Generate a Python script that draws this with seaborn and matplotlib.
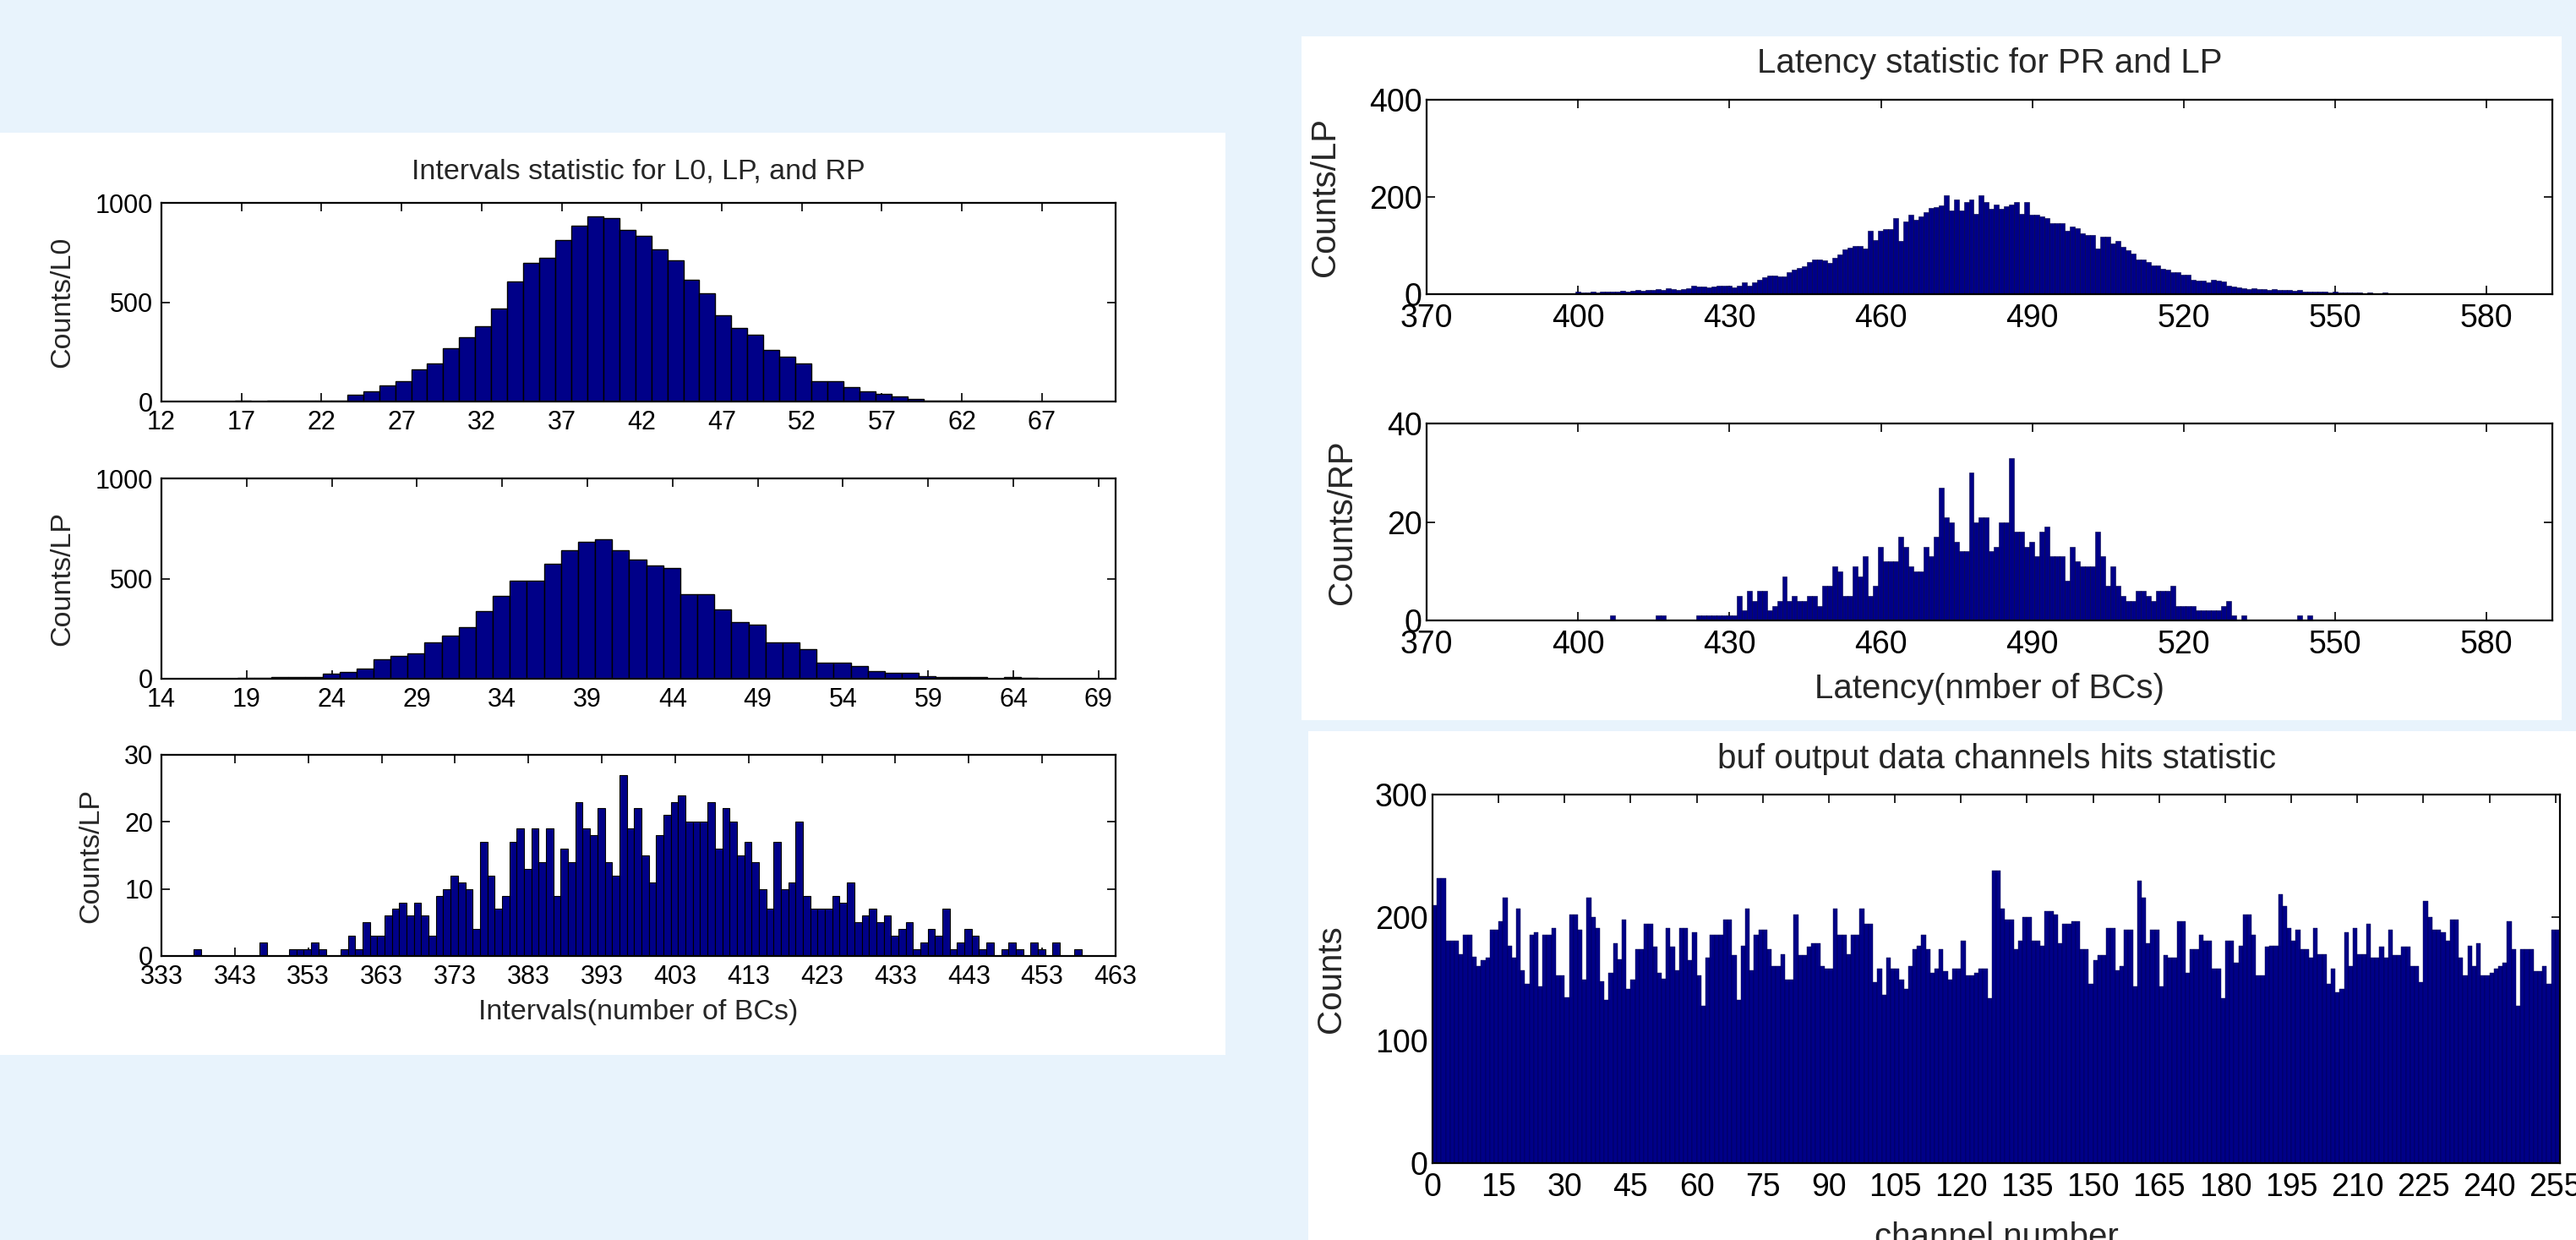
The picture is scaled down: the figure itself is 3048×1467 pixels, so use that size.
import numpy as np
import pandas as pd
import matplotlib.pyplot as plt
import seaborn as sns
from matplotlib.patches import Rectangle

# ---- values (bins are 1 unit wide, start = left edge of first bin) ----
l0_start = 16.6
l0_counts = [5, 0, 3, 4, 4, 5, 6, 35, 50, 81, 102, 160, 191, 267, 323, 379, 468, 603,
             699, 723, 811, 887, 932, 922, 865, 833, 766, 709, 613, 546, 435, 369, 336,
             258, 224, 191, 102, 102, 71, 50, 38, 24, 14, 6, 5, 4, 4, 3, 3, 2, 2]

lp_start = 18.45
lp_counts = [6, 6, 7, 8, 10, 25, 35, 49, 95, 115, 126, 183, 215, 258, 336, 412, 489, 489,
             574, 643, 685, 695, 642, 597, 566, 552, 421, 421, 347, 281, 270, 181, 181,
             147, 81, 81, 63, 38, 28, 28, 12, 10, 9, 8, 0, 7, 6]

rp_start = 337.4
rp_counts = [1, 0, 0, 0, 0, 0, 0, 0, 0, 2, 0, 0, 0, 1, 1, 1, 2, 1, 0, 0,
             1, 3, 1, 5, 3, 3, 6, 7, 8, 6, 8, 6, 3, 9, 10, 12, 11, 10, 4, 17,
             12, 7, 9, 17, 19, 13, 19, 14, 19, 9, 16, 14, 23, 19, 18, 22, 14, 12, 27, 19,
             22, 15, 11, 18, 21, 23, 24, 20, 20, 20, 23, 16, 22, 20, 15, 17, 14, 10, 7, 17,
             10, 11, 20, 9, 7, 7, 7, 9, 8, 11, 5, 6, 7, 5, 6, 3, 4, 5, 1, 2,
             4, 3, 7, 1, 2, 4, 3, 1, 2, 0, 1, 2, 1, 0, 2, 1, 0, 2, 0, 0, 1]

lat_lp_start = 399.4
lat_lp_counts = [5, 4, 3, 5, 4, 6, 5, 6, 6, 7, 6, 7, 8, 7, 8, 9, 10, 8,
                 13, 10, 9, 10, 12, 18, 15, 15, 14, 16, 18, 17, 18, 14, 17, 24, 18, 24,
                 30, 34, 38, 39, 36, 36, 45, 50, 54, 58, 66, 71, 71, 70, 65, 75, 82, 92,
                 96, 99, 99, 94, 130, 112, 130, 134, 134, 156, 110, 150, 163, 153, 160, 169, 177, 180,
                 183, 204, 173, 194, 172, 190, 195, 165, 204, 190, 176, 184, 175, 181, 184, 190, 165, 190,
                 163, 163, 160, 156, 146, 146, 146, 130, 140, 136, 125, 121, 121, 94, 119, 119, 105, 110,
                 98, 90, 83, 71, 71, 66, 60, 60, 52, 50, 46, 46, 40, 40,
                 30, 28, 27, 25, 30, 28, 26, 18, 15, 14, 12, 11, 12, 10, 11, 9, 10, 8, 9, 8, 7, 8, 6,
                 6, 5, 6, 5, 4, 5, 4, 3, 4, 3, 3, 2, 3, 2, 2, 3, 2, 1, 2, 1]

lat_rp_start = 406.4
lat_rp_counts = [1, 0, 0, 0, 0, 0, 0, 0, 0, 1, 1, 0, 0, 0, 0, 0, 0, 1, 1, 1, 1, 1, 1, 1, 1,
                 5, 2, 6, 4, 6, 6, 2, 3, 4, 9, 4, 5, 4, 4, 5, 5, 3, 7, 7, 11,
                 10, 5, 5, 11, 9, 13, 5, 7, 15, 12, 12, 12, 17, 15, 11, 10, 10, 15, 13, 17,
                 27, 21, 20, 16, 14, 14, 30, 20, 21, 21, 14, 15, 20, 20, 33, 18, 18, 15, 16, 13,
                 18, 19, 13, 13, 13, 8, 15, 12, 11, 11, 11, 18, 13, 7, 11, 7, 5, 4, 4, 6,
                 6, 5, 4, 6, 6, 6, 7, 3, 3, 3, 3, 2, 2, 2, 2, 2, 3, 4, 1, 0,
                 1, 0, 0, 0, 0, 0, 0, 0, 0, 0, 0, 1, 0, 1]

chan_counts = [210, 232, 232, 181, 181, 181, 170, 186, 186, 168,
               160, 165, 167, 190, 190, 197, 216, 177, 167, 207,
               157, 146, 186, 188, 144, 186, 186, 191, 153, 153,
               135, 202, 202, 190, 149, 216, 200, 191, 148, 133,
               155, 179, 166, 198, 142, 149, 174, 174, 195, 195,
               176, 155, 150, 191, 176, 157, 191, 191, 165, 188,
               153, 128, 167, 186, 186, 186, 198, 198, 169, 133,
               177, 207, 157, 186, 190, 190, 174, 160, 160, 170,
               149, 149, 202, 169, 169, 176, 179, 179, 160, 158,
               158, 207, 186, 186, 170, 186, 186, 207, 195, 195,
               147, 158, 137, 167, 158, 158, 149, 142, 160, 174,
               177, 186, 174, 155, 158, 174, 156, 149, 158, 158,
               181, 153, 153, 155, 158, 158, 134, 238, 238, 207,
               198, 198, 174, 181, 200, 200, 181, 181, 177, 205,
               205, 202, 179, 195, 195, 197, 197, 174, 174, 146,
               165, 169, 169, 191, 191, 157, 160, 190, 190, 144,
               230, 216, 179, 190, 190, 144, 169, 167, 167, 197,
               197, 155, 174, 174, 186, 181, 181, 158, 158, 134,
               181, 181, 163, 177, 202, 202, 186, 153, 153, 176,
               177, 177, 219, 209, 191, 181, 190, 174, 174, 167,
               191, 170, 170, 146, 158, 139, 142, 188, 160, 191,
               170, 170, 195, 167, 167, 176, 167, 190, 169, 169,
               176, 176, 160, 160, 147, 213, 200, 190, 190, 188,
               181, 198, 198, 167, 153, 177, 160, 179, 153, 153,
               155, 158, 160, 163, 197, 174, 128, 174, 174, 174,
               156, 156, 160, 146, 190, 190]

NAVY = '#000088'
BG = '#e8f3fc'
W, H = 3048, 1467

sns.set_style('ticks')
plt.rcParams['font.family'] = ['Liberation Sans', 'DejaVu Sans']

fig = plt.figure(figsize=(W / 100, H / 100), dpi=100, facecolor=BG)


def px_rect(l, t, r, b):
    return [l / W, 1 - b / H, (r - l) / W, (b - t) / H]


# white slide panels behind the plots
for l, t, r, b in [(0, 157, 1450, 1248), (1540, 43, 3031, 852), (1548, 865, 3048, 1467)]:
    x0, y0, w, h = px_rect(l, t, r, b)
    fig.add_artist(Rectangle((x0, y0), w, h, transform=fig.transFigure,
                             facecolor='white', edgecolor='none', zorder=-1))


def hist_panel(rect, start, counts, ec, lw):
    ax = fig.add_axes(rect)
    edges = [start + i for i in range(len(counts) + 1)]
    df = pd.DataFrame({'x': [e + 0.5 for e in edges[:-1]], 'n': counts})
    sns.histplot(data=df, x='x', weights='n', bins=edges, ax=ax,
                 color=NAVY, edgecolor=ec, linewidth=lw, alpha=1)
    return ax


def style(ax, xlim, xticks, ylim, yticks, fs, xpad, ypad):
    ax.set_xlim(xlim)
    ax.set_xticks(xticks)
    ax.set_ylim(ylim)
    ax.set_yticks(yticks)
    ax.tick_params(direction='in', length=7, width=1.2, top=True, right=True,
                   labelsize=fs, colors='black')
    ax.tick_params(axis='x', pad=xpad)
    ax.tick_params(axis='y', pad=ypad)
    for s in ax.spines.values():
        s.set_linewidth(1.6)
        s.set_color('black')
    ax.set_xlabel('')
    ax.set_ylabel('')


FS_L = 22      # left tick labels
LAB_L = 24.5   # left titles / axis labels
FS_R = 27
LAB_R = 29

# ---- left column: intervals ----
ax1 = hist_panel(px_rect(191, 240, 1320, 475), l0_start, l0_counts, 'black', 1.0)
style(ax1, (12, 71.6), np.arange(12, 72, 5), (0, 1000), [0, 500, 1000], FS_L, 7, 7)
ax1.set_ylabel('Counts/L0', fontsize=LAB_L)
ax1.yaxis.set_label_coords(-0.090, 0.5)
ax1.set_title('Intervals statistic for L0, LP, and RP', fontsize=LAB_L, y=1.123, pad=0)

ax2 = hist_panel(px_rect(191, 566, 1320, 803), lp_start, lp_counts, 'black', 1.0)
style(ax2, (14, 70), np.arange(14, 70, 5), (0, 1000), [0, 500, 1000], FS_L, 7, 7)
ax2.set_ylabel('Counts/LP', fontsize=LAB_L)
ax2.yaxis.set_label_coords(-0.090, 0.5)

ax3 = hist_panel(px_rect(191, 893, 1320, 1131), rp_start, rp_counts, 'black', 0.8)
style(ax3, (333, 463), np.arange(333, 464, 10), (0, 30), [0, 10, 20, 30], FS_L, 7, 7)
ax3.set_ylabel('Counts/LP', fontsize=LAB_L)
ax3.yaxis.set_label_coords(-0.060, 0.5)
ax3.set_xlabel('Intervals(number of BCs)', fontsize=LAB_L)
ax3.xaxis.set_label_coords(0.5, -0.215)

# ---- right top: latency ----
axa = hist_panel(px_rect(1688, 118, 3020, 348), lat_lp_start, lat_lp_counts, '#000040', 0.4)
style(axa, (370, 593), np.arange(370, 590, 30), (0, 400), [0, 200, 400], FS_R, 8, 4)
axa.set_ylabel('Counts/LP', fontsize=LAB_R)
axa.yaxis.set_label_coords(-0.0758, 0.5)
axa.set_title('Latency statistic for PR and LP', fontsize=LAB_R, y=1.139, pad=0)

axb = hist_panel(px_rect(1688, 501, 3020, 734), lat_rp_start, lat_rp_counts, '#000040', 0.4)
style(axb, (370, 593), np.arange(370, 590, 30), (0, 40), [0, 20, 40], FS_R, 8, 4)
axb.set_ylabel('Counts/RP', fontsize=LAB_R)
axb.yaxis.set_label_coords(-0.0608, 0.5)
axb.set_xlabel('Latency(nmber of BCs)', fontsize=LAB_R)
axb.xaxis.set_label_coords(0.5, -0.265)

# ---- right bottom: channel hits ----
axc = hist_panel(px_rect(1695, 940, 3029, 1376), 0, chan_counts, '#000040', 0.3)
style(axc, (0, 256), np.arange(0, 256, 15), (0, 300), [0, 100, 200, 300], FS_R, 8, 4)
axc.set_ylabel('Counts', fontsize=LAB_R)
axc.yaxis.set_label_coords(-0.0757, 0.5)
axc.set_xlabel('channel number', fontsize=LAB_R)
axc.xaxis.set_label_coords(0.5, -0.158)
axc.set_title('buf output data channels hits statistic', fontsize=LAB_R, y=1.071, pad=0)

fig.savefig('out.png', dpi=100, facecolor=BG)
